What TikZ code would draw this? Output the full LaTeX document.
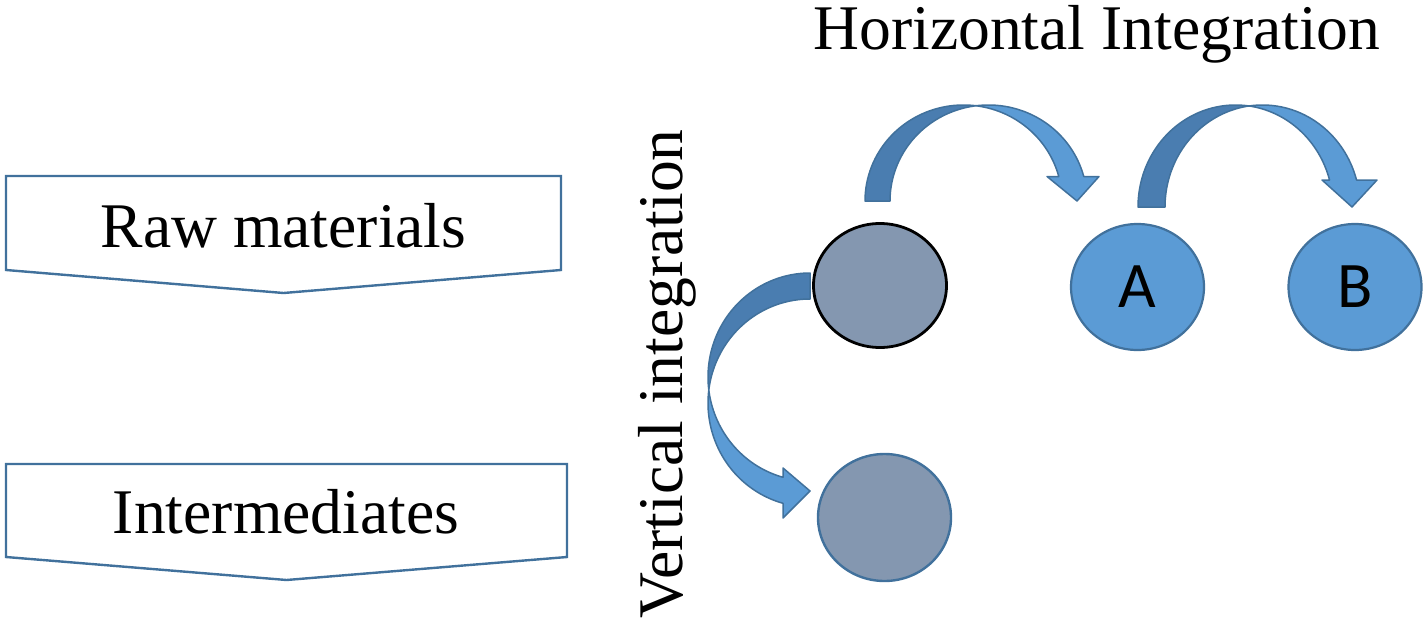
\documentclass[tikz,border=0pt]{standalone}
\usepackage{fontspec}
\setmainfont{Liberation Serif}
\newfontfamily\calfont{Carlito}
\usetikzlibrary{shapes.geometric}
\definecolor{olblue}{HTML}{41719C}
\definecolor{fillblue}{HTML}{5B9BD5}
\definecolor{darkblue}{HTML}{4A7DB0}
\definecolor{graycirc}{HTML}{8497B0}
\newcommand\cdarrow[9]{%
 \pgfmathsetmacro\cdL{#1-#5/2}%
 \pgfmathsetmacro\cdR{#1+#5/2}%
 \pgfmathsetmacro\cdTc{acos((#5/2)/#3)}%
 \pgfmathsetmacro\cdTr{180-\cdTc}%
 \pgfmathsetmacro\cdHa{asin(#6/#4)}%
 \filldraw[backband] plot[domain=180:\cdTc,variable=\t,samples=60] ({\cdL+#3*cos(\t)},{#2-#4*sin(\t)}) -- plot[domain=\cdTr:180,variable=\t,samples=60] ({\cdR+#3*cos(\t)},{#2-#4*sin(\t)}) -- cycle;
 \filldraw[frontband] plot[domain=\cdTr:\cdHa,variable=\t,samples=60] ({\cdR+#3*cos(\t)},{#2-#4*sin(\t)}) -- ({#8},{#2-#6}) -- ({#9},{#2}) -- ({#7},{#2-#6}) -- plot[domain=\cdHa:\cdTc,variable=\t,samples=60] ({\cdL+#3*cos(\t)},{#2-#4*sin(\t)}) -- cycle;
}
\begin{document}
\begin{tikzpicture}[x=0.5pt,y=-0.5pt,
  lbl/.style={font=\fontsize{31.8}{38}\selectfont, inner sep=0pt},
  pent/.style={draw=olblue, line width=1.2pt, fill=white, line join=miter},
  backband/.style={fill=darkblue, draw=olblue, line width=0.75pt, line join=round},
  frontband/.style={fill=fillblue, draw=olblue, line width=0.75pt, line join=round},
  graynode/.style={ellipse, fill=graycirc, inner sep=0pt, line width=1.2pt},
  bluenode/.style={ellipse, fill=fillblue, draw=olblue, inner sep=0pt, line width=1.1pt,
    font=\calfont\fontsize{32.5}{38}\selectfont}]
\useasboundingbox (0,0) rectangle (1427,626);
% boxes
\draw[pent] (6,176) -- (561,176) -- (561,270) -- (283.5,293) -- (6,270) -- cycle;
\draw[pent] (6,464) -- (567,464) -- (567,557) -- (286.5,580) -- (6,557) -- cycle;
\node[lbl, anchor=base] (raw) at (283.5,247) {Raw materials};
\node[lbl, anchor=base] (inter) at (286,533) {Intermediates};
\node[lbl, anchor=base] (horiz) at (1097,50) {Horizontal Integration};
\node[lbl, anchor=base, rotate=90] (vert) at (682,374) {Vertical integration};
% circles
\node[graynode, draw=black, line width=1.4pt, minimum width=66.5pt, minimum height=62pt] (c1) at (880,285.5) {};
\node[graynode, draw=olblue, minimum width=66.5pt, minimum height=63.5pt] (c2) at (884.5,517.5) {};
\node[bluenode, minimum width=66.5pt, minimum height=63pt] (A) at (1137.5,287) {A};
\node[bluenode, minimum width=66.5pt, minimum height=63pt] (B) at (1355,287) {B};
% horizontal curved arrows
\cdarrow{976}{201}{98.5}{96}{25}{24.5}{1047}{1099}{1077}
\cdarrow{1249}{207}{97.5}{102}{27}{27}{1322}{1377}{1352}
% vertical curved arrow
\filldraw[backband] plot[domain=90:187.18,variable=\t,samples=60] ({810+102*cos(\t)},{377-104*sin(\t)}) -- plot[domain=172.82:90,variable=\t,samples=60] ({810+102*cos(\t)},{403-104*sin(\t)}) -- cycle;
\filldraw[frontband] plot[domain=172.82:254.65,variable=\t,samples=60] ({810+102*cos(\t)},{403-104*sin(\t)}) -- (783,518) -- (810,491) -- (783,468) -- plot[domain=254.65:187.18,variable=\t,samples=60] ({810+102*cos(\t)},{377-104*sin(\t)}) -- cycle;
\end{tikzpicture}
\end{document}
